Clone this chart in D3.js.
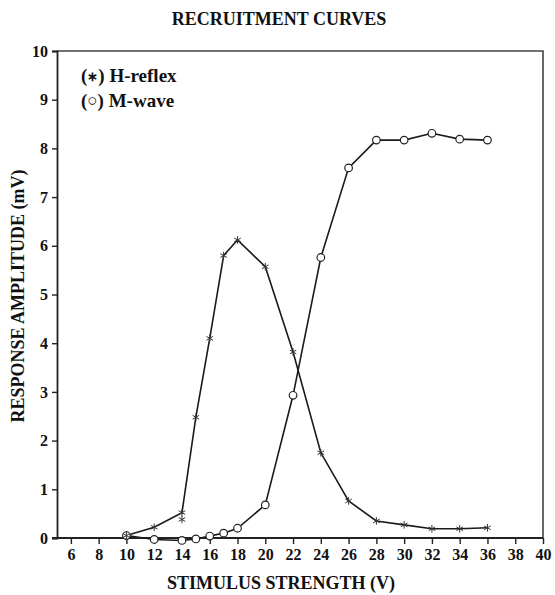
<!DOCTYPE html>
<html>
<head>
<meta charset="utf-8">
<script src="https://cdn.jsdelivr.net/npm/d3@7"></script>
<style>
  html, body { margin: 0; padding: 0; background: #fff; }
  svg text { font-family: "Liberation Serif", "Times New Roman", serif; font-weight: bold; fill: #111; }
</style>
</head>
<body>
<svg id="chart" width="555" height="595"></svg>
<script>
// Stimulus voltages and recorded amplitudes (mV)
const hVolts = [10, 12, 14, 15, 16, 17, 18, 20, 22, 24, 26, 28, 30, 32, 34, 36];
const hAmps  = [0.05, 0.22, 0.52, 2.48, 4.1, 5.8, 6.12, 5.57, 3.82, 1.75, 0.76, 0.35, 0.27, 0.19, 0.19, 0.21];
// Second H-reflex trial recorded at 14 V (not joined to the curve)
const hExtraVolts = [14];
const hExtraAmps  = [0.38];

const mVolts = [10, 12, 14, 15, 16, 17, 18, 20, 22, 24, 26, 28, 30, 32, 34, 36];
const mAmps  = [0.05, -0.03, -0.05, -0.02, 0.04, 0.1, 0.2, 0.68, 2.93, 5.76, 7.6, 8.17, 8.17, 8.31, 8.19, 8.17];

const xTicks = [6, 8, 10, 12, 14, 16, 18, 20, 22, 24, 26, 28, 30, 32, 34, 36, 38, 40];
const yTicks = [0, 1, 2, 3, 4, 5, 6, 7, 8, 9, 10];

(function () {
  const svg = d3.select("#chart");
  const mLeft = 57, mRight = 543, mTop = 51, mBottom = 538;

  const x = d3.scaleLinear().domain([5, 40]).range([mLeft, mRight]);
  const y = d3.scaleLinear().domain([0, 10]).range([mBottom, mTop]);

  // Frame: top and right borders
  svg.append("path")
    .attr("d", `M${mLeft},${mTop}H${mRight}V${mBottom}`)
    .attr("fill", "none").attr("stroke", "#444").attr("stroke-width", 1.6);

  // Axes
  const xAxis = svg.append("g").attr("transform", `translate(0,${mBottom})`)
    .call(d3.axisBottom(x).tickValues(xTicks).tickSize(6).tickPadding(5).tickFormat(d3.format("d")));
  const yAxis = svg.append("g").attr("transform", `translate(${mLeft},0)`)
    .call(d3.axisLeft(y).tickValues(yTicks).tickSize(5).tickPadding(4).tickFormat(d3.format("d")));

  [xAxis, yAxis].forEach(g => {
    g.select(".domain").attr("stroke", "#222").attr("stroke-width", 1.8);
    g.selectAll(".tick line").attr("stroke", "#222").attr("stroke-width", 1.4);
    g.selectAll(".tick text").attr("font-size", 16).attr("fill", "#111")
      .attr("font-family", "Liberation Serif, serif").attr("font-weight", "bold");
  });
  // Extend x-axis line to meet the y tick at zero
  xAxis.select(".domain").attr("d", `M${mLeft - 5},0H${mRight}`);

  const line = d3.line().x(d => x(d[0])).y(d => y(d[1]));
  const hData = hVolts.map((v, i) => [v, hAmps[i]]);
  const mData = mVolts.map((v, i) => [v, mAmps[i]]);
  const hExtra = hExtraVolts.map((v, i) => [v, hExtraAmps[i]]);

  svg.append("path").datum(hData).attr("d", line)
    .attr("fill", "none").attr("stroke", "#1a1a1a").attr("stroke-width", 1.6);
  svg.append("path").datum(mData).attr("d", line)
    .attr("fill", "none").attr("stroke", "#1a1a1a").attr("stroke-width", 1.6);

  // M-wave markers: open circles
  svg.append("g").selectAll("circle").data(mData).join("circle")
    .attr("cx", d => x(d[0])).attr("cy", d => y(d[1])).attr("r", 3.8)
    .attr("fill", "#fff").attr("stroke", "#222").attr("stroke-width", 1.2);

  // H-reflex markers: asterisks
  const star = d3.symbol().type(d3.symbolAsterisk).size(40);
  svg.append("g").selectAll("path").data(hData.concat(hExtra)).join("path")
    .attr("transform", d => `translate(${x(d[0])},${y(d[1])})`)
    .attr("d", star).attr("fill", "none").attr("stroke", "#333").attr("stroke-width", 1);

  // Legend: symbol inside parentheses, then the series name
  const legend = [["\u2217", " H-reflex", 82, 13], ["\u25CB", " M-wave", 107, 17]];
  legend.forEach(([sym, name, yy, fs]) => {
    const t = svg.append("text").attr("x", 81).attr("y", yy).attr("font-size", 19);
    t.append("tspan").text("(");
    t.append("tspan").attr("font-size", fs).attr("dy", -1).text(sym);
    t.append("tspan").attr("dy", 1).text(")" + name);
  });

  // Titles
  svg.append("text").attr("x", 279).attr("y", 25).attr("text-anchor", "middle")
    .attr("font-size", 18).text("RECRUITMENT CURVES");
  svg.append("text").attr("x", 281).attr("y", 589).attr("text-anchor", "middle")
    .attr("font-size", 18).text("STIMULUS STRENGTH (V)");
  svg.append("text").attr("transform", "translate(24,296) rotate(-90)").attr("text-anchor", "middle")
    .attr("font-size", 18).text("RESPONSE AMPLITUDE (mV)");
})();
</script>
</body>
</html>
